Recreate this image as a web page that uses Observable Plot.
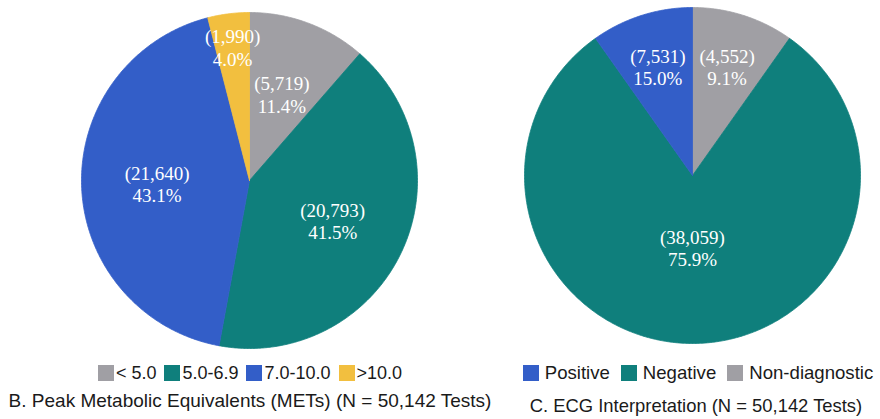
<!DOCTYPE html>
<html>
<head>
<meta charset="utf-8">
<script src="https://cdn.jsdelivr.net/npm/d3@7"></script>
<script src="https://cdn.jsdelivr.net/npm/@observablehq/plot@0.6"></script>
<style>
  html, body { margin: 0; padding: 0; background: #fff; }
  body { width: 880px; height: 419px; overflow: hidden; font-family: "Liberation Sans", Arial, sans-serif; color: #1a1a1a; }
  .wrap { display: flex; }
  .col { display: flex; flex-direction: column; align-items: center; }
  .col svg { display: block; }
  .legend { display: flex; align-items: center; line-height: 20px; height: 20px; margin-top: 8px; white-space: nowrap; }
  .legend .item { display: flex; align-items: center; }
  .legend .sw { width: 16px; height: 16px; }
  .title { line-height: 20px; white-space: nowrap; }
</style>
</head>
<body>
<div class="wrap">
  <div class="col" id="left" style="width:498px"></div>
  <div class="col" id="right" style="width:382px"></div>
</div>
<script>
// ---- Data ----
// Panel B: slices listed clockwise from 12 o'clock
const metCategories = ["< 5.0", "5.0-6.9", "7.0-10.0", ">10.0"];
const metCounts = [5719, 20793, 21640, 1990];
const metPercents = ["11.4%", "41.5%", "43.1%", "4.0%"];
const metSliceShares = [11.4, 41.5, 43.1, 4.0];      // wedge sizes as drawn
const metColors = ["#a09fa4", "#0f7f7c", "#335ec8", "#f2bf3f"];
const metLegendOrder = ["< 5.0", "5.0-6.9", "7.0-10.0", ">10.0"];
const metTitle = "B. Peak Metabolic Equivalents (METs) (N = 50,142 Tests)";

// Panel C: slices listed clockwise from 12 o'clock
const ecgCategories = ["Non-diagnostic", "Negative", "Positive"];
const ecgCounts = [4552, 38059, 7531];
const ecgPercents = ["9.1%", "75.9%", "15.0%"];
const ecgSliceShares = [9.8, 80.4, 9.8];              // wedge sizes as drawn in the figure
const ecgColors = ["#a09fa4", "#0f7f7c", "#335ec8"];
const ecgLegendOrder = ["Positive", "Negative", "Non-diagnostic"];
const ecgTitle = "C. ECG Interpretation (N = 50,142 Tests)";

function labelRadius(share) {
  if (share < 0.06) return 0.8;
  if (share < 0.1) return 0.68;
  if (share > 0.6) return 0.43;
  return 0.55;
}

function pieChart(cats, counts, pcts, shares, colors, layout) {
  const total = d3.sum(shares);
  const arcs = d3.pie().sort(null).value(d => d)(shares);
  const pts = [];
  const labels = [];
  arcs.forEach((a, i) => {
    const span = a.endAngle - a.startAngle;
    const n = Math.max(2, Math.ceil(span * 180 / Math.PI * 2));
    pts.push({key: cats[i], x: 0, y: 0});
    for (let j = 0; j <= n; j++) {
      const t = a.startAngle + span * j / n;
      pts.push({key: cats[i], x: Math.sin(t), y: Math.cos(t)});
    }
    pts.push({key: cats[i], x: 0, y: 0});
    const mid = (a.startAngle + a.endAngle) / 2;
    const r = labelRadius(shares[i] / total);
    labels.push({x: r * Math.sin(mid), y: r * Math.cos(mid), text: `(${d3.format(",")(counts[i])})\n${pcts[i]}`});
  });
  return Plot.plot({
    width: layout.width,
    height: 355,
    marginLeft: layout.marginLeft,
    marginRight: layout.marginRight,
    marginTop: layout.marginTop,
    marginBottom: layout.marginBottom,
    x: {domain: [-1, 1], axis: null},
    y: {domain: [-1, 1], axis: null},
    color: {domain: cats, range: colors},
    marks: [
      Plot.line(pts, {x: "x", y: "y", z: "key", fill: "key", stroke: "key", strokeWidth: 0.8, curve: "linear"}),
      Plot.text(labels, {x: "x", y: "y", text: "text", fill: "white", fontFamily: "Liberation Serif, Times New Roman, serif", fontSize: 19, lineHeight: 1.2})
    ]
  });
}

function legend(order, cats, colors, st) {
  const div = document.createElement("div");
  div.className = "legend";
  div.style.fontSize = st.fontSize;
  div.style.marginLeft = st.marginLeft;
  order.forEach((name, k) => {
    const item = document.createElement("div");
    item.className = "item";
    if (k < order.length - 1) item.style.marginRight = st.itemGap;
    const sw = document.createElement("div");
    sw.className = "sw";
    sw.style.marginRight = st.swGap;
    sw.style.background = colors[cats.indexOf(name)];
    const t = document.createElement("span");
    t.textContent = name;
    item.append(sw, t);
    div.append(item);
  });
  return div;
}

function title(text, st) {
  const div = document.createElement("div");
  div.className = "title";
  div.textContent = text;
  Object.assign(div.style, st);
  return div;
}

const left = document.getElementById("left");
left.append(pieChart(metCategories, metCounts, metPercents, metSliceShares, metColors,
  {width: 498, marginLeft: 81, marginRight: 81, marginTop: 12, marginBottom: 7}));
left.append(legend(metLegendOrder, metCategories, metColors,
  {fontSize: "18px", marginLeft: "2px", itemGap: "8px", swGap: "2px"}));
left.append(title(metTitle, {fontSize: "19px", marginTop: "8px", marginLeft: "2px"}));

const right = document.getElementById("right");
right.append(pieChart(ecgCategories, ecgCounts, ecgPercents, ecgSliceShares, ecgColors,
  {width: 382, marginLeft: 26, marginRight: 20, marginTop: 7, marginBottom: 12}));
right.append(legend(ecgLegendOrder, ecgCategories, ecgColors,
  {fontSize: "18.6px", marginLeft: "18px", itemGap: "11px", swGap: "6px"}));
right.append(title(ecgTitle, {fontSize: "18.4px", marginTop: "13px", marginLeft: "14px"}));
</script>
</body>
</html>
